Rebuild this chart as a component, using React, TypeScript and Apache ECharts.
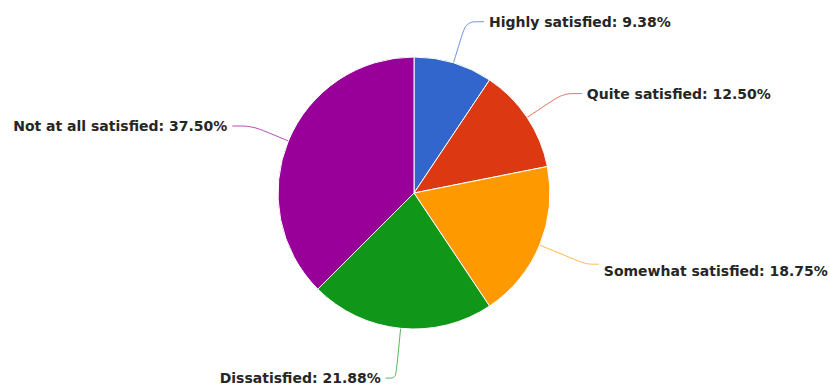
import React, { useEffect, useRef } from "react";
import * as echarts from "echarts";

const categories = [
  "Highly satisfied",
  "Quite satisfied",
  "Somewhat satisfied",
  "Dissatisfied",
  "Not at all satisfied",
];
const percentages = [9.38, 12.5, 18.75, 21.88, 37.5];
const colors = ["#3366cc", "#dc3912", "#ff9900", "#109618", "#990099"];
const lineLengths = [43, 43, 50, 50, 39];
const lineLengths2 = [18, 19, 13, 10, 20];
const labelShift = [0, 0, 14, 0, 0];

export default function App() {
  const ref = useRef<HTMLDivElement>(null);
  useEffect(() => {
    document.body.style.margin = "0";
    const chart = echarts.init(ref.current!, null, { renderer: "svg" });
    const textStyle = {
      fontFamily: "DejaVu Sans",
      fontWeight: "bold",
      fontSize: 14,
      color: "#262626",
    };
    chart.setOption({
      animation: false,
      backgroundColor: "#ffffff",
      series: [
        {
          type: "pie",
          center: [414, 193],
          radius: 136,
          startAngle: 90,
          clockwise: true,
          avoidLabelOverlap: false,
          itemStyle: { borderColor: "#ffffff", borderWidth: 1 },
          label: {
            show: true,
            position: "outside",
            ...textStyle,
            distanceToLabelLine: 5,
            formatter: (p: any) =>
              `{s${p.dataIndex}|${p.name}: ${Number(p.value).toFixed(2)}%}`,
            rich: Object.fromEntries(
              labelShift.map((s, i) => [
                `s${i}`,
                { ...textStyle, padding: [s, 0, 0, 0] },
              ])
            ),
          },
          labelLine: {
            show: true,
            smooth: 0.3,
            lineStyle: { width: 1, opacity: 0.7 },
          },
          data: categories.map((name, i) => ({
            name,
            value: percentages[i],
            itemStyle: { color: colors[i] },
            labelLine: { length: lineLengths[i], length2: lineLengths2[i] },
          })),
        },
      ],
    });
    return () => chart.dispose();
  }, []);
  return <div ref={ref} style={{ width: 829, height: 389 }} />;
}
